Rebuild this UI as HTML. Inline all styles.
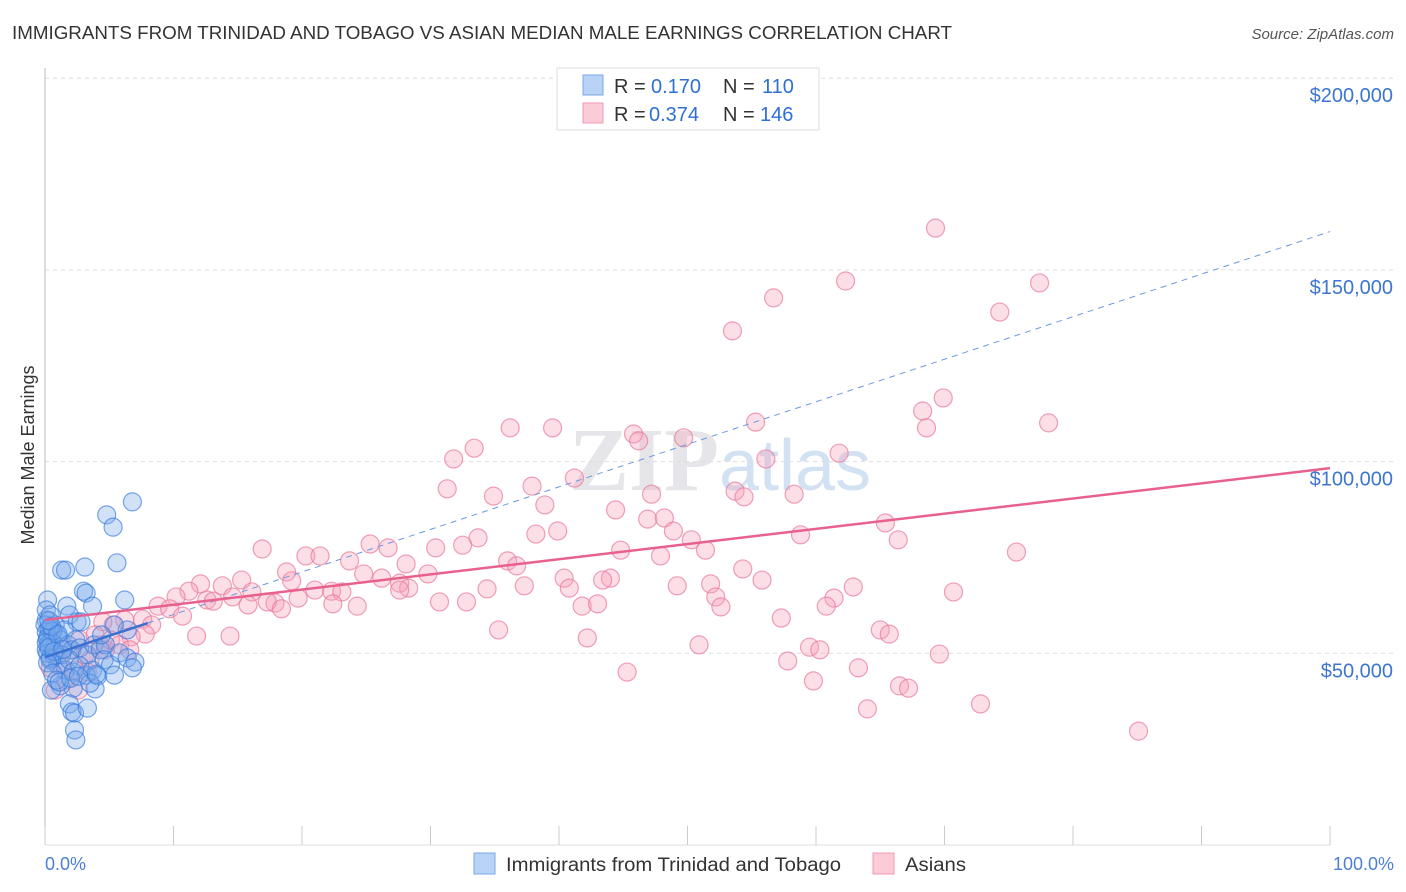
<!DOCTYPE html>
<html><head><meta charset="utf-8"><style>
body{margin:0;background:#fff;font-family:"Liberation Sans",sans-serif;}
svg{display:block}
</style></head><body>
<svg width="1406" height="892">
<text x="12" y="39" font-size="18" fill="#333" textLength="940" lengthAdjust="spacingAndGlyphs">IMMIGRANTS FROM TRINIDAD AND TOBAGO VS ASIAN MEDIAN MALE EARNINGS CORRELATION CHART</text>
<text x="1394" y="39" font-size="15" fill="#555" text-anchor="end" font-style="italic">Source: ZipAtlas.com</text>
<text x="720" y="490" font-size="90" fill="#e6e6ea" text-anchor="middle" font-family="Liberation Serif,serif" font-weight="bold">ZIP<tspan fill="#d3e2f3" font-family="Liberation Sans,sans-serif" font-weight="normal" font-size="72">atlas</tspan></text>
<g id="grid"></g>
<g id="axes"></g>
<g id="pts"></g>
<g id="lines"></g>
<text transform="translate(34,455) rotate(-90)" font-size="18" fill="#333" text-anchor="middle">Median Male Earnings</text>
<text x="45" y="870" font-size="18" fill="#4a7fd4">0.0%</text>
<text x="1394" y="870" font-size="18" fill="#4a7fd4" text-anchor="end">100.0%</text>
<g>
<rect x="557" y="68" width="262" height="62" fill="#fff" stroke="#ddd"/>
<rect x="583" y="75" width="20" height="20" fill="#b8d3f5" stroke="#7aa9e8"/>
<rect x="583" y="103" width="20" height="20" fill="#fbcbd8" stroke="#f19ab2"/>
<text x="614" y="93" font-size="20" fill="#333">R =</text><text x="651" y="93" font-size="20" fill="#2e6fd4">0.170</text>
<text x="723" y="93" font-size="20" fill="#333">N =</text><text x="762" y="93" font-size="20" fill="#2e6fd4">110</text>
<text x="614" y="121" font-size="20" fill="#333">R =</text><text x="649" y="121" font-size="20" fill="#2e6fd4">0.374</text>
<text x="723" y="121" font-size="20" fill="#333">N =</text><text x="760" y="121" font-size="20" fill="#2e6fd4">146</text>
</g>
<g>
<rect x="474" y="853" width="21" height="21" fill="#b8d3f5" stroke="#7aa9e8"/>
<text x="506" y="871" font-size="19" fill="#333" textLength="335" lengthAdjust="spacingAndGlyphs">Immigrants from Trinidad and Tobago</text>
<rect x="873" y="853" width="21" height="21" fill="#fbcbd8" stroke="#f19ab2"/>
<text x="905" y="871" font-size="19" fill="#333" textLength="61" lengthAdjust="spacingAndGlyphs">Asians</text>
</g>
</svg>
<script>
const yTicks=[50,100,150,200];
const yTickLabels=["$50,000","$100,000","$150,000","$200,000"];
const xTicks=[0,10,20,30,40,50,60,70,80,90,100];
const blueX=[6.8,4.8,5.3,1.3,1.6,3.1,5.6,3.0,3.2,6.2,1.7,3.7,1.9,2.5,2.8,0.1,0.4,0.8,0.2,0.5,0.9,1.2,1.5,1.8,2.1,2.4,2.7,3.3,3.8,4.3,4.7,0.1,0.4,0.7,1.0,1.3,1.6,1.9,2.2,2.7,3.2,3.7,4.1,4.6,5.1,5.8,6.4,7.0,6.8,5.4,3.9,2.2,1.2,0.5,1.9,2.1,2.3,3.3,2.3,2.4,0.2,0.1,0.4,0,6.4,5.4,4.4,0.1,0.3,0.2,0.5,0.3,0.6,0.2,0.4,0.1,0.3,0.7,0.5,1.0,1.4,0.2,0.6,0.9,1.1,2.0,2.6,3.5,4.0,0.3];
const blueY=[89.5,86.1,82.9,71.7,71.7,72.5,73.6,66.2,65.7,63.9,62.3,62.3,60.0,58.2,58.2,58.7,56.1,57.4,53.5,52.2,54.8,53.5,56.1,52.2,50.9,53.5,51.4,49.6,52.2,50.9,52.2,50.9,48.3,49.6,47.0,49.6,45.6,48.3,45.1,46.7,44.3,45.6,44.1,48.3,47.0,50.1,48.8,47.7,46.2,44.3,40.7,40.9,41.5,40.4,36.8,34.7,34.4,35.7,30.0,27.4,63.9,61.3,60.0,57.4,56.1,57.4,54.8,55.5,56.5,54.0,53.0,52.5,55.8,50.0,48.8,52.8,51.5,50.5,57.0,55.0,51.0,47.5,44.8,43.0,42.5,43.5,44.0,42.2,44.5,58.5];
const pinkX=[69.3,62.3,77.4,56.7,74.3,53.5,69.9,68.3,55.3,78.1,68.6,36.2,39.5,45.8,49.7,46.2,33.4,31.8,61.8,56.1,41.2,31.3,37.9,53.7,54.4,47.2,58.3,34.9,38.9,44.4,46.9,48.2,65.4,48.9,39.9,38.2,58.8,66.4,33.7,50.3,32.5,25.3,26.7,30.4,16.9,51.4,44.8,75.6,20.3,21.4,23.7,36.0,47.9,36.7,28.1,54.3,18.8,29.8,24.8,26.2,40.4,44.0,43.4,55.8,19.2,15.3,12.1,13.8,51.8,49.2,27.6,28.3,34.4,37.3,40.8,62.9,70.7,21.0,22.3,23.1,11.2,16.1,27.6,14.6,52.2,10.2,12.6,13.1,19.7,17.9,17.3,30.7,32.8,61.4,22.4,24.3,41.8,43.0,52.6,18.4,15.8,60.8,8.8,9.7,10.7,57.3,7.6,6.2,8.3,5.3,4.5,35.3,65.0,65.7,11.8,14.4,7.8,6.7,42.2,50.9,59.5,60.3,69.6,57.8,45.3,63.3,59.8,66.5,67.2,72.8,64.0,85.1,0.8,1.2,1.9,2.7,3.5,4.3,1.6,2.3,3.1,3.9,4.7,5.1,5.8,1.0,2.6,3.3,0.4,6.6];
const pinkY=[160.9,147.1,146.6,142.7,139.0,134.1,116.6,113.2,110.3,110.1,108.8,108.8,108.8,107.2,106.2,105.4,103.5,100.7,102.2,100.7,95.7,92.9,93.6,92.3,90.8,91.5,91.5,91.0,88.7,87.4,85.0,85.3,84.0,81.9,81.9,81.1,80.9,79.6,80.1,79.6,78.2,78.5,77.5,77.5,77.2,76.9,76.9,76.4,75.4,75.4,74.1,74.1,75.4,72.8,73.3,72.0,71.2,70.7,70.7,69.6,69.6,69.6,69.1,69.1,68.9,69.1,68.1,67.6,68.1,67.6,68.3,67.0,66.8,67.6,67.0,67.3,66.0,66.5,66.2,66.0,66.2,66.0,66.5,64.7,64.7,64.7,63.9,63.6,64.4,63.1,63.4,63.4,63.4,64.4,62.9,62.3,62.3,62.9,62.1,61.6,62.6,62.3,62.3,61.6,59.7,59.2,58.9,58.7,57.4,57.4,58.2,56.1,56.1,55.0,54.5,54.5,55.0,54.3,54.0,52.2,51.6,50.9,49.8,48.0,45.1,46.2,42.8,41.5,40.9,36.8,35.5,29.7,40.4,47,50.9,53.5,48.3,52.2,43,45.6,49.6,54.8,50.9,53.5,52.2,49.6,40.4,45.1,46.2,50.9];
const pinkTrend=[58.7,98.3];
const blueTrend=[49,57.9];
const blueTrendEnd=8;
const blueDashEnd=[100,160];

const NS="http://www.w3.org/2000/svg";
const X=v=>45+v*12.85;
const Y=v=>845-v*3.834;
function mk(tag,attrs,parent){const e=document.createElementNS(NS,tag);for(const k in attrs)e.setAttribute(k,attrs[k]);document.getElementById(parent).appendChild(e);return e;}
const ax=mk('line',{x1:45,y1:68,x2:45,y2:845,stroke:'#bbb'},'axes');


const bx=mk('line',{x1:45,y1:845,x2:1330,y2:845,stroke:'#ddd'},'axes');


yTicks.forEach((t,i)=>{
 const g=mk('line',{x1:45,y1:Y(t),x2:1394,y2:Y(t),stroke:'#ddd','stroke-dasharray':'4,4'},'grid');
 
 
 const l=mk('text',{x:1393,y:Y(t)+24,'font-size':20,fill:'#3d75d0','text-anchor':'end'},'grid');
 l.textContent=yTickLabels[i];
 
 
});
xTicks.forEach(t=>{
 const l=mk('line',{x1:X(t),y1:826,x2:X(t),y2:845,stroke:'#ccc'},'axes');
 
 
});
pinkX.forEach((x,i)=>{
 const c=mk('circle',{cx:X(x),cy:Y(pinkY[i]),r:9,fill:'rgba(246,160,186,0.35)',stroke:'rgba(232,120,155,0.7)','stroke-width':1.2},'pts');
 
 
});
blueX.forEach((x,i)=>{
 const c=mk('circle',{cx:X(x),cy:Y(blueY[i]),r:9,fill:'rgba(120,170,235,0.35)',stroke:'rgba(50,120,220,0.65)','stroke-width':1.2},'pts');
 
 
});
const d=mk('line',{x1:X(blueTrendEnd),y1:Y(blueTrend[1]),x2:X(blueDashEnd[0]),y2:Y(blueDashEnd[1]),stroke:'#6a9ae0','stroke-width':1,'stroke-dasharray':'6,5'},'lines');


const b=mk('line',{x1:X(0),y1:Y(blueTrend[0]),x2:X(blueTrendEnd),y2:Y(blueTrend[1]),stroke:'#3b6fd0','stroke-width':2.5},'lines');


const p=mk('line',{x1:X(0),y1:Y(pinkTrend[0]),x2:X(100),y2:Y(pinkTrend[1]),stroke:'#e8608e','stroke-width':2.5},'lines');


</script>
</body></html>
